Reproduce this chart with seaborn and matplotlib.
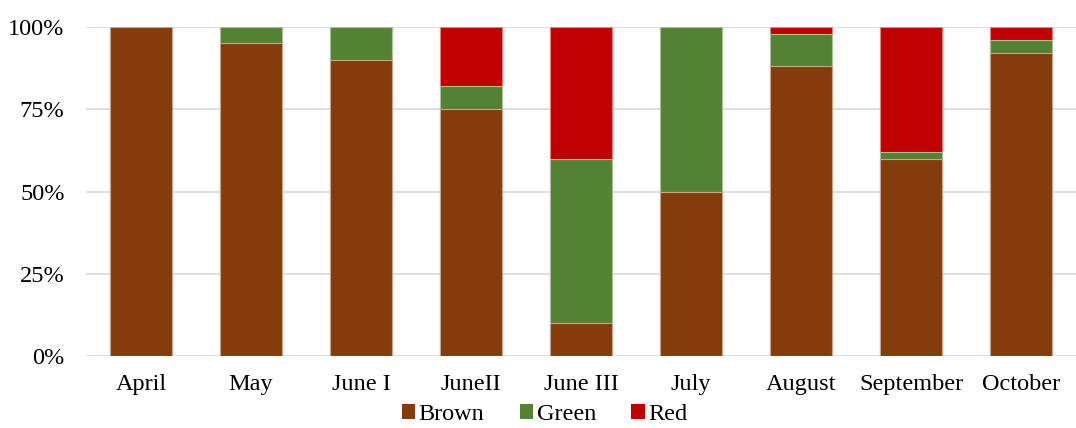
### Packages
import numpy as np
import pandas as pd
import matplotlib.pyplot as plt
import seaborn as sns
from matplotlib.patches import Patch
from matplotlib.ticker import PercentFormatter

sns.set_theme(style='white')
plt.rcParams['font.family'] = ['Liberation Serif', 'DejaVu Serif']

### Data
months = ['April', 'May', 'June I', 'JuneII', 'June III', 'July', 'August', 'September', 'October']
brown = [100, 95, 90, 75, 10, 50, 88, 60, 92]
green = [0, 5, 10, 7, 50, 50, 10, 2, 4]
red = [0, 0, 0, 18, 40, 0, 2, 38, 4]

colors = {'Brown': '#843C0C', 'Green': '#548235', 'Red': '#C00000'}
edges = {'Brown': '#C9A58A', 'Green': '#A9C09A', 'Red': '#E88080'}

df = pd.DataFrame({'month': months, 'Brown': brown, 'Green': green, 'Red': red})
df['top_green'] = df['Brown'] + df['Green']
df['top_red'] = df['top_green'] + df['Red']

### Plot
fig, ax = plt.subplots(figsize=(10.76, 4.28), dpi=100)
fig.subplots_adjust(left=0.08, right=1.0, top=0.937, bottom=0.168)

# Stack by overdrawing cumulative totals, tallest first
for col, name in [('top_red', 'Red'), ('top_green', 'Green'), ('Brown', 'Brown')]:
    sns.barplot(data=df, x='month', y=col, color=colors[name], saturation=1,
                width=0.57, edgecolor=edges[name], linewidth=0.8, ax=ax, zorder=3)

ax.set_ylim(0, 100)
ax.set_xlim(-0.5, len(months) - 0.5)
ax.set_yticks([0, 25, 50, 75, 100])
ax.yaxis.set_major_formatter(PercentFormatter(decimals=0))
ax.grid(axis='y', color='#D9D9D9', linewidth=1.2, zorder=0)
ax.set_axisbelow(True)
sns.despine(ax=ax, left=True, bottom=True, top=True, right=True)
ax.set_xlabel('')
ax.set_ylabel('')
ax.tick_params(axis='both', length=0, labelsize=17.5, colors='black')
ax.tick_params(axis='x', pad=13)
ax.tick_params(axis='y', pad=15.5)

handles = [Patch(facecolor=colors[n], edgecolor='none', label=n) for n in ['Brown', 'Green', 'Red']]
fig.legend(handles=handles, loc='lower center', bbox_to_anchor=(0.506, -0.045), ncol=3,
           frameon=False, fontsize=17.5, handlelength=0.55, handleheight=0.55,
           handletextpad=0.15, columnspacing=1.45, labelcolor='black')

fig.savefig('out.png', dpi=100)
